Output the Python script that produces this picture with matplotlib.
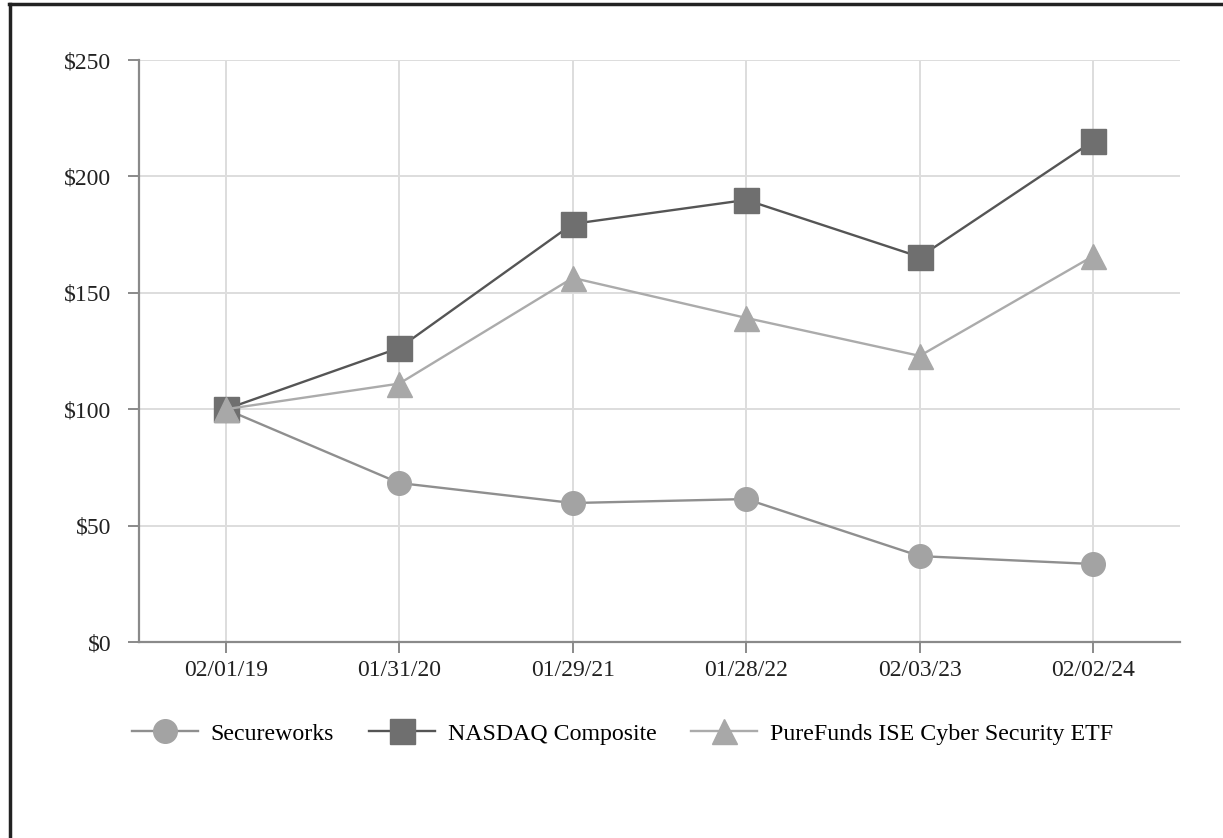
import matplotlib
matplotlib.use("Agg")
import matplotlib.pyplot as plt
from matplotlib.lines import Line2D

dates = ["02/01/19", "01/31/20", "01/29/21", "01/28/22", "02/03/23", "02/02/24"]
secureworks = [100, 68.3, 59.7, 61.4, 36.9, 33.5]
nasdaq = [100, 126.3, 179.6, 189.9, 165.4, 215.2]
purefunds = [100, 111.0, 156.4, 139.2, 122.9, 165.8]
yticks = [0, 50, 100, 150, 200, 250]
ytick_labels = ["$0", "$50", "$100", "$150", "$200", "$250"]

plt.rcParams['font.family'] = ['Liberation Serif', 'DejaVu Serif']

fig = plt.figure(figsize=(12.23, 8.38), dpi=100)
ax = fig.add_axes([139/1223, (838-642)/838, (1180-139)/1223, (642-60)/838])

x = list(range(len(dates)))
l1, = ax.plot(x, secureworks, color='#8f8f8f', lw=1.7, marker='o', ms=17,
              mfc='#a3a3a3', mec='#a3a3a3', label='Secureworks', zorder=3)
l2, = ax.plot(x, nasdaq, color='#555555', lw=1.7, marker='s', ms=18,
              mfc='#6f6f6f', mec='#6f6f6f', label='NASDAQ Composite', zorder=4)
l3, = ax.plot(x, purefunds, color='#ababab', lw=1.7, marker='^', ms=18,
              mfc='#a8a8a8', mec='#a8a8a8', label='PureFunds ISE Cyber Security ETF', zorder=5)

ax.set_xlim(-0.5, len(dates) - 0.5)
ax.set_ylim(0, 250)
ax.set_xticks(x)
ax.set_xticklabels(dates, fontsize=17, color='#222222')
ax.set_yticks(yticks)
ax.set_yticklabels(ytick_labels, fontsize=17, color='#222222')
ax.grid(True, color='#dddddd', lw=1.4, zorder=0)
ax.set_axisbelow(True)
for s in ['top', 'right']:
    ax.spines[s].set_visible(False)
for s in ['left', 'bottom']:
    ax.spines[s].set_color('#8a8a8a')
    ax.spines[s].set_linewidth(1.6)
ax.tick_params(axis='y', length=8, width=1.4, color='#8a8a8a', pad=12)
ax.tick_params(axis='x', length=8, width=1.4, color='#8a8a8a', pad=5)

fig.legend(handles=[l1, l2, l3], loc='center', bbox_to_anchor=(0.509, 0.1245),
           ncol=3, frameon=False, fontsize=17.2, handlelength=2.75,
           handletextpad=0.55, columnspacing=1.45, markerscale=1.0)

# frame lines (top and left)
fig.add_artist(Line2D([9/1223, 1], [1 - 4.5/838, 1 - 4.5/838], transform=fig.transFigure,
                      color='#222222', lw=2.5))
fig.add_artist(Line2D([10.5/1223, 10.5/1223], [0, 1 - 4.5/838], transform=fig.transFigure,
                      color='#222222', lw=2.5))

fig.savefig('out.png', dpi=100)
